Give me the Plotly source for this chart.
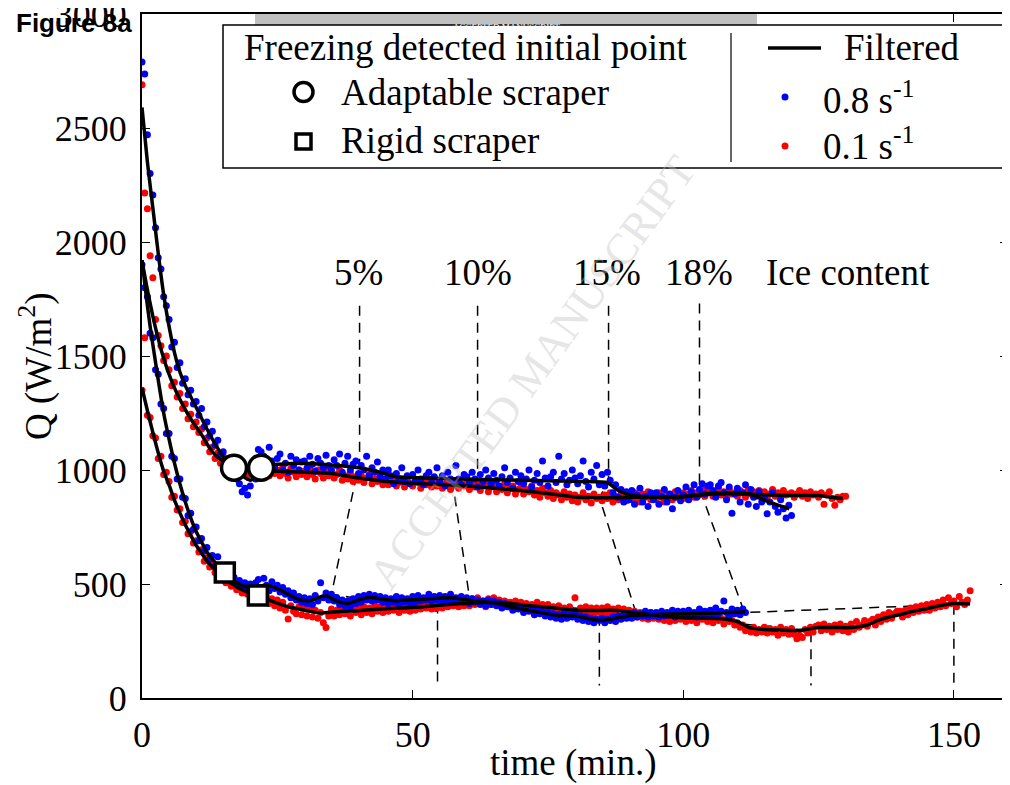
import numpy as np
import plotly.graph_objects as go

# ---------------- data ----------------
STEP = 0.5  # sampling step of the raw measurements (min)

# 0.8 s-1, adaptable scraper (upper blue), t = 0 ... 120 min
Q_BLUE_ADAPT = [
    2790, 2737, 2470, 2300, 2206, 2062, 1931, 1882, 1760, 1720,
    1660, 1540, 1560, 1450, 1470, 1380, 1400, 1330, 1350, 1290,
    1300, 1240, 1270, 1190, 1210, 1150, 1170, 1110, 1130, 1070,
    1080, 1040, 1050, 1000, 1020, 960, 940, 905, 920, 890,
    930, 1000, 960, 1090, 1080, 1060, 1000, 1100, 1040, 1010,
    1050, 1070, 1000, 1030, 990, 1060, 1020, 1045, 1000, 1035,
    1040, 1010, 1060, 1025, 995, 1050, 1030, 1010, 1065, 1020,
    1000, 1045, 1020, 1070, 990, 1030, 1060, 1000, 1025, 1040,
    985, 1020, 1000, 1060, 975, 1010, 990, 1035, 970, 1000,
    960, 1000, 975, 940, 985, 960, 1010, 950, 975, 940,
    980, 950, 1000, 960, 935, 975, 990, 945, 970, 1010,
    950, 975, 930, 990, 960, 945, 1020, 960, 935, 980,
    970, 945, 990, 960, 925, 980, 950, 1000, 965, 940,
    985, 955, 930, 970, 1010, 945, 965, 920, 990, 950,
    975, 940, 960, 1000, 925, 955, 985, 945, 1040, 965,
    930, 970, 990, 945, 1060, 960, 985, 935, 955, 1000,
    965, 940, 975, 1040, 950, 925, 990, 960, 1020, 935,
    980, 930, 990, 955, 900, 935, 880, 915, 860, 905,
    870, 910, 850, 890, 920, 860, 885, 840, 900, 870,
    900, 850, 885, 915, 860, 895, 830, 880, 910, 865,
    890, 925, 870, 905, 935, 880, 915, 940, 895, 930,
    935, 910, 880, 930, 945, 900, 870, 925, 810, 895,
    920, 860, 900, 935, 850, 915, 880, 840, 905, 860,
    880, 808, 860, 900, 840, 815, 870, 830, 790, 845, 800,
]

# 0.1 s-1, adaptable scraper (upper red), t = 0 ... 130 min
Q_RED_ADAPT = [
    2690, 2215, 2146, 1940, 1843, 1660, 1590, 1545, 1480, 1500,
    1440, 1370, 1385, 1320, 1335, 1270, 1290, 1225, 1245, 1190,
    1210, 1165, 1180, 1120, 1140, 1080, 1100, 1050, 1075, 1030,
    1060, 1020, 1040, 1000, 1030, 985, 1015, 990, 1010, 975,
    1010, 980, 1005, 970, 1020, 990, 1000, 975, 1015, 985,
    1000, 975, 1010, 985, 965, 1005, 990, 970, 1000, 980,
    995, 970, 1005, 980, 960, 1000, 985, 965, 995, 975,
    990, 965, 980, 1000, 955, 975, 960, 985, 950, 970,
    955, 975, 945, 965, 980, 940, 960, 950, 970, 935,
    960, 935, 950, 965, 930, 945, 955, 925, 960, 940,
    930, 955, 945, 920, 950, 935, 960, 925, 945, 930,
    950, 920, 940, 955, 915, 935, 945, 920, 940, 930,
    945, 915, 935, 925, 950, 910, 930, 940, 905, 925,
    935, 905, 925, 915, 940, 900, 920, 930, 895, 915,
    925, 895, 915, 905, 930, 890, 910, 880, 920, 900,
    885, 910, 875, 900, 890, 870, 905, 880, 895, 865,
    890, 860, 880, 900, 870, 885, 855, 895, 875, 880,
    865, 890, 875, 900, 860, 885, 870, 895, 880, 865,
    890, 870, 900, 875, 860, 895, 880, 905, 870, 885,
    870, 900, 880, 860, 895, 885, 870, 905, 880, 890,
    900, 875, 895, 910, 880, 900, 890, 915, 885, 905,
    910, 885, 900, 920, 890, 905, 880, 915, 895, 900,
    885, 910, 900, 880, 915, 895, 905, 885, 910, 890,
    905, 880, 895, 915, 885, 900, 875, 910, 890, 895,
    900, 880, 895, 910, 885, 900, 875, 905, 890, 895,
    880, 900, 850, 890, 905, 875, 845, 880, 870, 885,
    885,
]

# 0.8 s-1, rigid scraper (lower blue), t = 0 ... 111.5 min
Q_BLUE_RIGID = [
    1900, 1800, 1760, 1600, 1580, 1440, 1420, 1290, 1270, 1160,
    1160, 1060, 1050, 960, 960, 880, 875, 800, 810, 740,
    750, 690, 700, 645, 660, 610, 625, 580, 620, 560,
    575, 540, 550, 520, 530, 500, 515, 485, 505, 480,
    500, 475, 505, 520, 480, 525, 495, 470, 510, 480,
    495, 465, 485, 455, 470, 440, 460, 430, 445, 420,
    440, 415, 435, 410, 450, 425, 506, 440, 460, 430,
    455, 425, 440, 410, 430, 405, 425, 400, 435, 415,
    445, 420, 450, 430, 455, 425, 450, 430, 445, 420,
    440, 415, 435, 420, 445, 410, 440, 420, 435, 415,
    445, 420, 450, 425, 440, 430, 455, 425, 445, 430,
    450, 425, 445, 430, 455, 420, 440, 425, 445, 420,
    440, 415, 435, 420, 430, 410, 425, 405, 430, 410,
    425, 405, 420, 395, 415, 400, 410, 385, 405, 390,
    400, 375, 395, 380, 390, 365, 385, 370, 380, 360,
    375, 355, 370, 350, 365, 345, 375, 350, 365, 355,
    370, 345, 360, 340, 355, 335, 350, 330, 345, 340,
    350, 330, 345, 340, 355, 335, 360, 345, 365, 350,
    370, 350, 375, 355, 370, 360, 380, 355, 375, 360,
    375, 355, 380, 360, 375, 365, 385, 355, 380, 365,
    380, 360, 385, 365, 375, 355, 390, 365, 380, 360,
    385, 365, 395, 370, 380, 425, 375, 360, 390, 370,
    385, 365, 390, 375,
]

# 0.1 s-1, rigid scraper (lower red), t = 0 ... 153 min
Q_RED_RIGID = [
    1350, 1580, 1240, 1230, 1150, 1140, 1050, 1060, 980, 990,
    950, 880, 885, 825, 830, 770, 775, 720, 730, 680,
    690, 640, 650, 600, 615, 575, 590, 550, 565, 525,
    545, 505, 525, 490, 510, 475, 495, 460, 485, 455,
    475, 440, 465, 430, 455, 420, 445, 415, 435, 405,
    430, 395, 420, 385, 347, 405, 380, 370, 400, 365,
    395, 360, 390, 355, 385, 350, 375, 330, 309, 360,
    390, 360, 385, 365, 395, 370, 390, 360, 395, 375,
    395, 365, 400, 375, 395, 370, 405, 380, 400, 375,
    405, 380, 410, 385, 400, 375, 410, 385, 405, 380,
    410, 385, 405, 390, 415, 395, 420, 390, 415, 395,
    420, 395, 425, 400, 415, 405, 430, 400, 425, 405,
    430, 405, 435, 410, 440, 415, 425, 400, 435, 410,
    440, 410, 430, 400, 425, 405, 420, 395, 425, 400,
    420, 395, 415, 390, 410, 385, 420, 390, 410, 385,
    410, 385, 400, 380, 405, 375, 395, 380, 400, 375,
    440, 370, 395, 375, 400, 365, 395, 370, 395, 375,
    395, 370, 400, 365, 390, 375, 395, 360, 390, 365,
    385, 360, 380, 355, 375, 350, 370, 345, 375, 350,
    370, 345, 365, 340, 360, 335, 365, 340, 355, 345,
    360, 335, 355, 340, 365, 330, 355, 345, 360, 335,
    355, 330, 360, 340, 350, 325, 345, 335, 340, 320,
    330, 310, 320, 295, 305, 290, 310, 285, 300, 290,
    310, 285, 305, 290, 300, 275, 310, 285, 300, 280,
    305, 280, 260, 275, 265, 300, 285, 310, 290, 315,
    320, 295, 325, 300, 315, 290, 320, 300, 325, 295,
    315, 290, 325, 300, 335, 310, 320, 340, 315, 335,
    345, 320, 355, 335, 365, 345, 375, 350, 370, 380,
    380, 355, 385, 365, 395, 375, 400, 380, 405, 385,
    410, 385, 415, 395, 420, 400, 430, 405, 440, 415,
    425, 400, 445, 420, 410, 430, 470,
]

# Filtered curves (knots)
F_BA_T = [0, 1, 2, 3, 4, 5, 6, 7, 8, 10, 12, 14, 16, 17, 18.5, 20, 21, 22, 23, 25, 30, 35, 40,
          44, 47, 52, 59, 66, 75, 81, 86, 88, 90.6, 95, 100, 106, 112, 114, 117, 119.6]
F_BA_Q = [2590, 2350, 2150, 1950, 1770, 1630, 1515, 1430, 1370, 1275, 1180, 1095, 1030, 1010, 975,
          955, 975, 1010, 1020, 1025, 1030, 1022, 1010, 990, 970, 965, 960, 957, 953, 950, 944,
          910, 888, 880, 882, 900, 896, 878, 850, 830]

F_RA_T = [0, 1, 2, 3, 4, 5, 6, 7, 8, 9, 10, 11, 12, 13, 14, 15, 16, 17, 18, 20, 22, 25, 30, 35,
          40, 45, 50, 55, 60, 65, 70, 75, 81, 86, 90, 95, 100, 105, 110, 115, 120, 125, 127.5, 129.5]
F_RA_Q = [1920, 1790, 1675, 1575, 1490, 1420, 1360, 1310, 1265, 1225, 1190, 1155, 1115, 1080,
          1055, 1040, 1025, 1012, 1002, 998, 996, 995, 990, 985, 965, 950, 942, 936, 930, 920,
          910, 897, 880, 878, 880, 882, 885, 894, 895, 891, 888, 888, 880, 875]

F_BR_T = [0, 0.5, 1, 1.5, 2, 3, 4, 5, 6, 7, 8, 9, 10, 11, 12, 13, 14, 15.3, 17, 19, 21, 23, 25,
          27, 29, 31, 32.5, 34, 36, 38, 40, 42, 44, 47, 51, 57, 61, 65.5, 68, 71.6, 76.6, 80,
          84.5, 87, 90.6, 95, 100, 105, 111.5]
F_BR_Q = [1920, 1820, 1720, 1630, 1550, 1395, 1250, 1135, 1030, 940, 860, 790, 730, 684, 640,
          610, 580, 550, 515, 490, 490, 494, 480, 455, 432, 427, 440, 448, 425, 415, 430, 442,
          435, 427, 432, 440, 428, 415, 400, 384, 362, 360, 340, 348, 362, 366, 370, 372, 378]

F_RR_T = [0, 1, 2, 3, 4, 5, 6, 7, 8, 9, 10, 11, 12, 13, 14, 15, 16, 17, 18, 20, 21.4, 23, 25,
          27, 29, 31, 33, 35, 37, 40, 44, 48, 52, 56, 60, 63, 65.5, 68, 71.6, 75.3, 78, 80.8,
          84, 87.6, 90, 93, 96, 99.8, 103, 107, 110, 112.2, 115, 118, 121.4, 123, 125, 128, 131,
          134, 136, 138, 140, 142, 145, 147, 150, 153]
F_RR_Q = [1360, 1260, 1165, 1075, 995, 935, 868, 812, 760, 714, 670, 635, 600, 575, 550, 530,
          510, 495, 480, 460, 450, 435, 416, 400, 390, 380, 373, 376, 381, 383, 390, 395, 400,
          409, 416, 419, 419, 415, 405, 397, 390, 384, 384, 384, 377, 368, 360, 352, 350, 348,
          335, 309, 300, 298, 296, 302, 309, 309, 309, 320, 340, 355, 365, 378, 392, 403, 414, 412]

# Freezing detected initial points
CIRCLE_T = [17.0, 22.0]
CIRCLE_Q = [1010, 1010]
SQUARE_T = [15.3, 21.4]
SQUARE_Q = [550, 450]

# Ice-content guide lines
ICE_LABELS = ["5%", "10%", "15%", "18%", "Ice content"]
ICE_LABEL_T = [40.0, 62.0, 86.0, 103.0, 130.5]
ICE_LABEL_Q = 1865
ICE_GUIDE_T = [
    [40.2, 40.2, 35.0, 54.6, 54.6],
    [62.0, 62.0, 57.5, 60.5, 84.5, 84.5],
    [86.2, 86.2, 84.5, 91.3, 123.6, 123.6],
    [103.0, 103.0, 103.6, 111.3, 150.0, 150.0],
]
ICE_GUIDE_Q = [
    [1720, 1040, 455, 380, 55],
    [1720, 1000, 930, 440, 384, 55],
    [1720, 950, 880, 371, 295, 55],
    [1730, 905, 880, 375, 410, 55],
]

X_TICKS = [0, 50, 100, 150]
Y_TICKS = [0, 500, 1000, 1500, 2000, 2500, 3000]

# ---------------- figure ----------------
# The page body has an 8 px margin, so the figure is drawn 8 px smaller and
# every pixel position below is given in page (window) pixels.
OFF = 8
PL, PR, PT, PB = 142, 1008, 14, 698          # plot area in page pixels
W, H = 1010 - OFF, 785 - OFF
SERIF = "Liberation Serif, Times New Roman, serif"


def px(x):
    return (x - PL) / (PR - PL)


def py(y):
    return (PB - y) / (PB - PT)


def times(n):
    return np.arange(n) * STEP


fig = go.Figure()

# guide lines (under the data)
gx, gy = [], []
for tt, qq in zip(ICE_GUIDE_T, ICE_GUIDE_Q):
    gx += tt + [None]
    gy += qq + [None]
fig.add_trace(go.Scatter(x=gx, y=gy, mode="lines",
                         line=dict(color="black", width=1.5, dash="10px,7px"),
                         hoverinfo="skip", showlegend=False))

# raw data
for q, col in [(Q_RED_ADAPT, "#ff0000"), (Q_RED_RIGID, "#ff0000"),
               (Q_BLUE_ADAPT, "#0000ff"), (Q_BLUE_RIGID, "#0000ff")]:
    fig.add_trace(go.Scatter(x=times(len(q)), y=q, mode="markers",
                             marker=dict(color=col, size=7, line=dict(width=0)),
                             showlegend=False))

# filtered
for t, q in [(F_RA_T, F_RA_Q), (F_BA_T, F_BA_Q), (F_RR_T, F_RR_Q), (F_BR_T, F_BR_Q)]:
    fig.add_trace(go.Scatter(x=t, y=q, mode="lines",
                             line=dict(color="black", width=3.5, shape="spline", smoothing=0.6),
                             showlegend=False))

# freezing points
fig.add_trace(go.Scatter(x=CIRCLE_T, y=CIRCLE_Q, mode="markers",
                         marker=dict(symbol="circle", size=25, color="white",
                                     line=dict(color="black", width=3.5)),
                         showlegend=False))
fig.add_trace(go.Scatter(x=SQUARE_T, y=SQUARE_Q, mode="markers",
                         marker=dict(symbol="square", size=19, color="white",
                                     line=dict(color="black", width=3.5)),
                         showlegend=False))

annotations = []
for lab, t in zip(ICE_LABELS, ICE_LABEL_T):
    annotations.append(dict(x=t, y=ICE_LABEL_Q, xref="x", yref="y", text=lab,
                            showarrow=False, font=dict(family=SERIF, size=37, color="black"),
                            xanchor="center", yanchor="middle"))

# watermark
annotations.append(dict(x=px(532), y=py(372), xref="paper", yref="paper",
                        text="ACCEPTED MANUSCRIPT", showarrow=False, textangle=-54,
                        font=dict(family=SERIF, size=44, color="rgba(190,190,190,0.4)")))

shapes = []
# top grey banner
shapes.append(dict(type="rect", xref="paper", yref="paper", x0=px(255), x1=px(757),
                   y0=py(27), y1=py(14), fillcolor="#c0c0c0", line=dict(width=0), layer="above"))
annotations.append(dict(x=px(506), y=py(19.5), xref="paper", yref="paper",
                        text="ACCEPTED MANUSCRIPT", showarrow=False,
                        font=dict(family=SERIF, size=9, color="white")))

# legend box
shapes.append(dict(type="rect", xref="paper", yref="paper", x0=px(223), x1=px(1003),
                   y0=py(168), y1=py(25), fillcolor="white",
                   line=dict(color="black", width=1.5), layer="above"))
shapes.append(dict(type="line", xref="paper", yref="paper", x0=px(731), x1=px(731),
                   y0=py(162), y1=py(33), line=dict(color="black", width=1.2), layer="above"))
shapes.append(dict(type="circle", xref="paper", yref="paper", x0=px(294), x1=px(313),
                   y0=py(101.5), y1=py(82.5), fillcolor="white",
                   line=dict(color="black", width=3.5), layer="above"))
shapes.append(dict(type="rect", xref="paper", yref="paper", x0=px(296), x1=px(311),
                   y0=py(149), y1=py(134), fillcolor="white",
                   line=dict(color="black", width=3.5), layer="above"))
shapes.append(dict(type="line", xref="paper", yref="paper", x0=px(768), x1=px(821),
                   y0=py(48), y1=py(48), line=dict(color="black", width=3.5), layer="above"))
shapes.append(dict(type="circle", xref="paper", yref="paper", x0=px(781.5), x1=px(788.5),
                   y0=py(100.5), y1=py(93.5), fillcolor="#0000ff", line=dict(width=0), layer="above"))
shapes.append(dict(type="circle", xref="paper", yref="paper", x0=px(781.5), x1=px(788.5),
                   y0=py(149.5), y1=py(142.5), fillcolor="#ff0000", line=dict(width=0), layer="above"))

leg_font = dict(family=SERIF, size=37, color="black")
for txt, x, y in [("Freezing detected initial point", 242, 48),
                  ("Adaptable scraper", 339, 92),
                  ("Rigid scraper", 339, 141),
                  ("Filtered", 842, 48),
                  ("0.8 s<sup>-1</sup>", 821, 97),
                  ("0.1 s<sup>-1</sup>", 821, 143)]:
    annotations.append(dict(x=px(x), y=py(y), xref="paper", yref="paper", text=txt,
                            showarrow=False, xanchor="left", yanchor="middle", font=leg_font))

# axis titles
annotations.append(dict(x=px(573), y=py(763), xref="paper", yref="paper", text="time (min.)",
                        showarrow=False, xanchor="center", yanchor="middle",
                        font=dict(family=SERIF, size=37, color="black")))
annotations.append(dict(x=px(36), y=py(366), xref="paper", yref="paper",
                        text="Q (W/m<sup>2</sup>)", showarrow=False, textangle=-90,
                        xanchor="center", yanchor="middle",
                        font=dict(family=SERIF, size=37, color="black")))
# figure label
annotations.append(dict(x=px(14), y=py(23), xref="paper", yref="paper", text="<b>Figure 8a</b>",
                        showarrow=False, xanchor="left", yanchor="middle",
                        font=dict(family="Liberation Sans, Arial, sans-serif", size=26,
                                  color="black")))

axis_common = dict(showgrid=False, zeroline=False, showline=True, linecolor="black",
                   linewidth=2, mirror="ticks", ticks="inside", ticklen=8, tickwidth=1,
                   tickcolor="black", tickfont=dict(family=SERIF, size=36, color="black"),
                   ticklabeloverflow="allow", automargin=False)

fig.update_layout(
    width=W, height=H,
    margin=dict(l=PL - OFF, r=W - (PR - OFF), t=PT - OFF, b=H - (PB - OFF), pad=0,
                autoexpand=False),
    plot_bgcolor="white", paper_bgcolor="white",
    xaxis=dict(range=[0, 160], tickvals=X_TICKS, ticklabelstandoff=4, **axis_common),
    yaxis=dict(range=[0, 3000], tickvals=Y_TICKS, ticklabelstandoff=6, **axis_common),
    shapes=shapes, annotations=annotations, showlegend=False,
)

fig.write_html("out.html")
